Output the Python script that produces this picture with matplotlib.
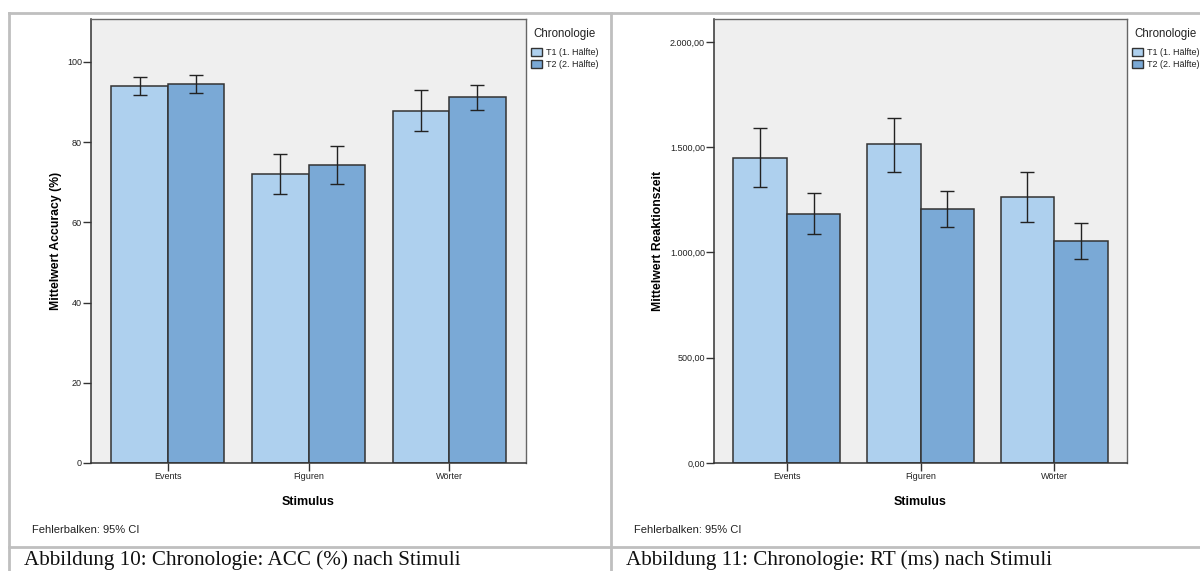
import matplotlib.pyplot as plt
from matplotlib.lines import Line2D
from matplotlib.patches import Patch
import numpy as np

plt.rcParams['font.family'] = ['Liberation Sans', 'DejaVu Sans']

stimuli = ['Events', 'Figuren', 'Wörter']
groups = ['T1 (1. Hälfte)', 'T2 (2. Hälfte)']

# accuracy (%) means with 95% CI bounds
acc_t1 = [93.9, 72.1, 87.8]
acc_t1_lo = [91.8, 67.1, 82.7]
acc_t1_hi = [96.2, 77.1, 93.1]
acc_t2 = [94.5, 74.3, 91.2]
acc_t2_lo = [92.3, 69.5, 88.1]
acc_t2_hi = [96.8, 79.0, 94.3]

# reaction time (ms) means with 95% CI bounds
rt_t1 = [1451, 1513, 1263]
rt_t1_lo = [1312, 1383, 1147]
rt_t1_hi = [1589, 1641, 1380]
rt_t2 = [1185, 1207, 1054]
rt_t2_lo = [1087, 1121, 967]
rt_t2_hi = [1282, 1294, 1141]

acc_ticks = [0, 20, 40, 60, 80, 100]
acc_ticklabels = ['0', '20', '40', '60', '80', '100']
rt_ticks = [0, 500, 1000, 1500, 2000]
rt_ticklabels = ['0,00', '500,00', '1.000,00', '1.500,00', '2.000,00']

c_t1 = '#aed0ee'
c_t2 = '#7aa9d6'
edge = '#333333'
bg = '#efefef'
grid_gray = '#bfbfbf'

W, H = 1200, 571
fig = plt.figure(figsize=(W / 100, H / 100), dpi=100)


def px(x0, y0, x1, y1):
    return [x0 / W, 1 - y1 / H, (x1 - x0) / W, (y1 - y0) / H]


def bar_panel(ax, m1, lo1, hi1, m2, lo2, hi2, ymax, ticks, ticklabels, ylabel, ylabelpad):
    x = np.arange(len(stimuli))
    w = 0.4
    for xs, m, lo, hi, c in [(x - w / 2, m1, lo1, hi1, c_t1), (x + w / 2, m2, lo2, hi2, c_t2)]:
        m = np.array(m)
        err = [m - np.array(lo), np.array(hi) - m]
        ax.bar(xs, m, width=w, color=c, edgecolor=edge, linewidth=1.1, zorder=2)
        ax.errorbar(xs, m, yerr=err, fmt='none', ecolor='#222222', elinewidth=1.0,
                    capsize=4.7, capthick=1.0, zorder=3)
    ax.set_facecolor(bg)
    ax.set_xlim(-0.545, 2.545)
    ax.set_ylim(0, ymax)
    ax.set_xticks(x)
    ax.set_xticklabels(stimuli, fontsize=6.5, color='#222222')
    ax.set_yticks(ticks)
    ax.set_yticklabels(ticklabels, fontsize=6.5, color='#222222')
    ax.tick_params(axis='both', direction='out', length=5.5, width=1.0, color='#333333', pad=1)
    for s in ['top', 'right']:
        ax.spines[s].set_color('#666666')
        ax.spines[s].set_linewidth(1.0)
    for s in ['left', 'bottom']:
        ax.spines[s].set_color('#333333')
        ax.spines[s].set_linewidth(1.1)
    ax.set_xlabel('Stimulus', fontsize=9, fontweight='bold', labelpad=11)
    ax.set_ylabel(ylabel, fontsize=8.8, fontweight='bold', labelpad=ylabelpad)

    # legend: title as its own text, entries below it
    ax.text(1.018, 0.967, 'Chronologie', transform=ax.transAxes, fontsize=8.3,
            ha='left', va='center', color='#222222')
    handles = [Patch(facecolor=c_t1, edgecolor=edge, linewidth=1.0),
               Patch(facecolor=c_t2, edgecolor=edge, linewidth=1.0)]
    ax.legend(handles, groups, loc='upper left', bbox_to_anchor=(1.012, 0.935),
              frameon=False, fontsize=6.5, handlelength=1.22, handleheight=1.0,
              handletextpad=0.45, labelspacing=0.33, borderpad=0.0,
              borderaxespad=0.0, labelcolor='#222222')


ax1 = fig.add_axes(px(91, 19, 526, 463))
bar_panel(ax1, acc_t1, acc_t1_lo, acc_t1_hi, acc_t2, acc_t2_lo, acc_t2_hi,
          110.7, acc_ticks, acc_ticklabels, 'Mittelwert Accuracy (%)', 3.8)

ax2 = fig.add_axes(px(714, 19, 1127, 463))
bar_panel(ax2, rt_t1, rt_t1_lo, rt_t1_hi, rt_t2, rt_t2_lo, rt_t2_hi,
          2109, rt_ticks, rt_ticklabels, 'Mittelwert Reaktionszeit', 4.5)

# footnotes
fig.text(32 / W, 1 - 530 / H, 'Fehlerbalken: 95% CI', fontsize=8, va='center', ha='left', color='#222222')
fig.text(634 / W, 1 - 530 / H, 'Fehlerbalken: 95% CI', fontsize=8, va='center', ha='left', color='#222222')


# table frame around the two figures
def hline(y, x0=9, x1=W):
    fig.add_artist(Line2D([x0 / W, x1 / W], [1 - y / H, 1 - y / H], color=grid_gray, lw=2.0))


def vline(x, y0=12.7, y1=H):
    fig.add_artist(Line2D([x / W, x / W], [1 - y0 / H, 1 - y1 / H], color=grid_gray, lw=2.0))


hline(12.7)
hline(547)
vline(9)
vline(611)

# captions
fig.text(24 / W, 1 - 550.5 / H, 'Abbildung 10: Chronologie: ACC (%) nach Stimuli',
         family=['Liberation Serif'], fontsize=15.2, va='top', ha='left', color='#111111')
fig.text(626 / W, 1 - 550.5 / H, 'Abbildung 11: Chronologie: RT (ms) nach Stimuli',
         family=['Liberation Serif'], fontsize=15.2, va='top', ha='left', color='#111111')

fig.savefig('out.png', dpi=100, facecolor='white')
